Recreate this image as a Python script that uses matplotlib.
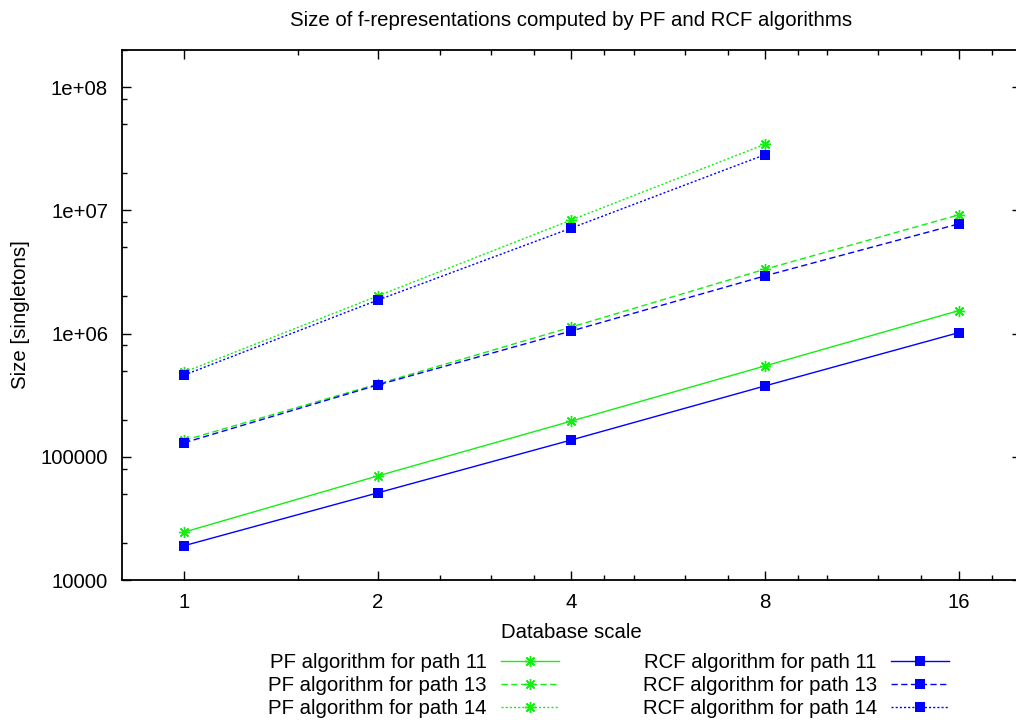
import numpy as np
import matplotlib
matplotlib.use("Agg")
import matplotlib.pyplot as plt

plt.rcParams["font.family"] = ["Liberation Sans", "DejaVu Sans"]

# database scale factors
scales = [1, 2, 4, 8, 16]
scales_14 = [1, 2, 4, 8]

# sizes in singletons
pf_11 = [24500, 70000, 195000, 546000, 1535000]
pf_13 = [136000, 390000, 1130000, 3330000, 9180000]
pf_14 = [487000, 2020000, 8360000, 34400000]
rcf_11 = [19000, 51000, 137000, 376000, 1017000]
rcf_13 = [130000, 383000, 1050000, 2940000, 7760000]
rcf_14 = [461000, 1870000, 7190000, 28300000]

xticks = [1, 2, 4, 8, 16]
xminor = [1.5, 2.5, 3, 3.5, 4.5, 5, 6, 7, 9, 10, 12, 14, 18]
yticks = [1e4, 1e5, 1e6, 1e7, 1e8]
ylabels = ["10000", "100000", "1e+06", "1e+07", "1e+08"]
yminor = [m * 10.0 ** e for e in range(4, 8) for m in (2, 5, 8)] + [2e8]

green = "#11f011"
blue = "#0000ff"
star = (8, 2, 0)
dashed = (0, (4.5, 2.5))
dotted = (0, (1.5, 1.5))
fs = 14.7

fig = plt.figure(figsize=(10.16, 7.2), dpi=100)
ax = fig.add_axes([122 / 1016, 140 / 720, 899 / 1016, 530 / 720])

ax.plot(scales, pf_11, color=green, lw=1.0, ls="-", marker=star, ms=8, mew=1.0,
        label="PF algorithm for path 11")
ax.plot(scales, pf_13, color=green, lw=1.0, ls=dashed, marker=star, ms=8, mew=1.0,
        label="PF algorithm for path 13")
ax.plot(scales_14, pf_14, color=green, lw=1.0, ls=dotted, marker=star, ms=8, mew=1.0,
        label="PF algorithm for path 14")
ax.plot(scales, rcf_11, color=blue, lw=1.0, ls="-", marker="s", ms=7.3, mew=0,
        label="RCF algorithm for path 11")
ax.plot(scales, rcf_13, color=blue, lw=1.0, ls=dashed, marker="s", ms=7.3, mew=0,
        label="RCF algorithm for path 13")
ax.plot(scales_14, rcf_14, color=blue, lw=1.0, ls=dotted, marker="s", ms=7.3, mew=0,
        label="RCF algorithm for path 14")

ax.set_xscale("log", base=2)
ax.set_yscale("log")

ax.set_xticks(xticks)
ax.set_xticklabels([str(v) for v in xticks])
ax.set_xticks(xminor, minor=True)
ax.set_xticklabels([], minor=True)
ax.set_yticks(yticks)
ax.set_yticklabels(ylabels)
ax.set_yticks(yminor, minor=True)
ax.set_yticklabels([], minor=True)
ax.set_xlim(0.8, 20)
ax.set_ylim(1e4, 2e8)

ax.tick_params(which="both", direction="in", top=True, right=True, width=1.0,
               labelsize=fs, colors="black")
ax.tick_params(which="major", length=6.5)
ax.tick_params(which="minor", length=3.5)
ax.tick_params(axis="x", which="major", pad=9)
ax.tick_params(axis="y", which="major", pad=10)
for s in ax.spines.values():
    s.set_linewidth(1.3)

ax.set_title("Size of f-representations computed by PF and RCF algorithms",
             fontsize=fs, pad=17)
ax.set_xlabel("Database scale", fontsize=fs, labelpad=8)
ax.set_ylabel("Size [singletons]", fontsize=fs, labelpad=8)

leg = ax.legend(loc="upper left", bbox_to_anchor=(268 / 1016, 1 - 653 / 720),
                bbox_transform=fig.transFigure, ncol=2, frameon=False,
                markerfirst=False, fontsize=fs, handlelength=2.85,
                handletextpad=0.7, columnspacing=4.1, labelspacing=0.2,
                borderpad=0, borderaxespad=0)

fig.savefig("out.png", dpi=100)
